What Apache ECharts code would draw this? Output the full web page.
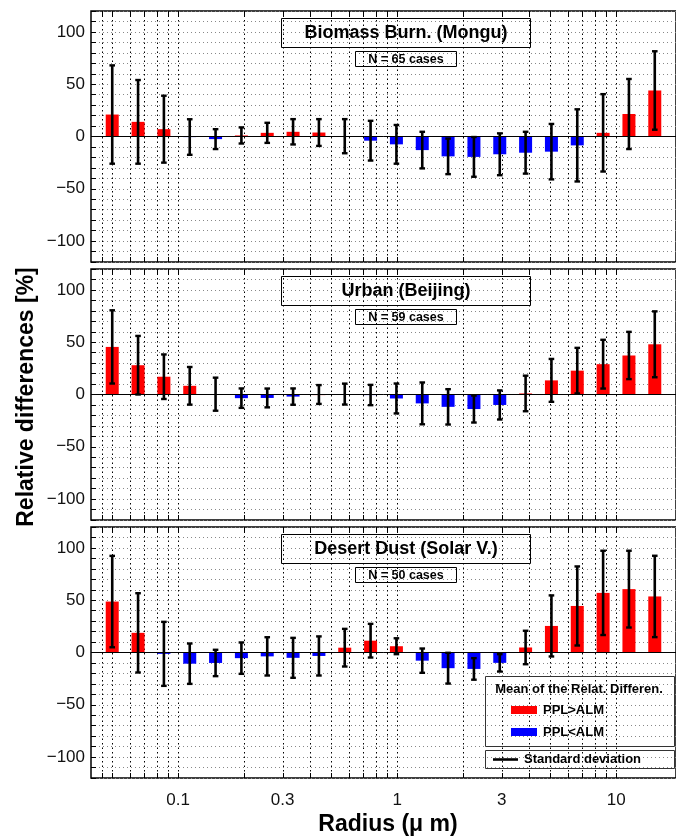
<!DOCTYPE html>
<html><head><meta charset="utf-8">
<script src="https://cdn.jsdelivr.net/npm/echarts@6/dist/echarts.min.js"></script>
<style>html,body{margin:0;padding:0;background:#fff}#c{width:676px;height:838px}</style>
</head><body><div id="c"></div>
<script>
// ---- data ----
const radii = [0.05, 0.065604, 0.086077, 0.112939, 0.148184, 0.194429, 0.255105, 0.334716, 0.439173, 0.576227, 0.756052, 0.991996, 1.301571, 1.707757, 2.240702, 2.939966, 3.857452, 5.06126, 6.640745, 8.713145, 11.432287, 15.0];

const monguMean = [21, 14, 7, -0.5, -2.5, 1, 3.5, 4.5, 3.8, 0.3, -4, -7.5, -13, -19, -19.5, -17, -15.5, -14.5, -8.5, 3.5, 21.5, 44];
const monguSd   = [47, 40, 32, 17, 9.5, 7.7, 9.6, 12.1, 12.8, 16.3, 19, 18.5, 17.5, 17, 19, 20, 20, 26.5, 34.5, 37, 33.5, 37.5];

const beijingMean = [45.5, 28, 17, 8.3, 0.3, -3.5, -3.3, -2, 0, 0.4, -0.5, -3.8, -8.5, -11.8, -13.9, -10, 1, 13.5, 22.8, 29, 37.3, 48];
const beijingSd   = [35, 28, 21.3, 18, 15.8, 9.3, 9, 7.8, 9, 10, 9.7, 14.3, 20, 16.9, 12.9, 13.9, 17, 20.5, 21.8, 23.3, 22.6, 31.5];

const solarMean = [48.7, 18.8, -1.3, -10.7, -10, -5.4, -3.7, -5.1, -3.3, 4.6, 11.3, 6, -7.8, -15, -15.7, -9.9, 4.8, 25.4, 44.5, 57, 60.6, 53.6];
const solarSd   = [43.7, 37.9, 30.6, 19.3, 12.6, 15, 18.3, 19.1, 18.7, 18, 16.1, 7.6, 11.6, 14.7, 10.3, 8.3, 16, 29.2, 37.8, 40.3, 36.7, 38.9];

const panelTitles = ['Biomass Burn. (Mongu)', 'Urban (Beijing)', 'Desert Dust (Solar V.)'];
const panelCases  = ['N = 65 cases', 'N = 59 cases', 'N = 50 cases'];
const xTickLabels = [0.1, 0.3, 1, 3, 10];
const xGridValues = [0.045, 0.05, 0.06, 0.07, 0.08, 0.09, 0.1, 0.2, 0.3, 0.4, 0.5, 0.6, 0.7, 0.8, 0.9, 1, 2, 3, 4, 5, 6, 7, 8, 9, 10];
const yLabelValues = [-100, -50, 0, 50, 100];
const legendTitle = 'Mean of the Relat. Differen.';
const legendPos = 'PPL>ALM';
const legendNeg = 'PPL<ALM';
const legendSd = 'Standard deviation';
const yTitle = 'Relative differences [%]';
const xTitle = 'Radius (\u03bc m)';

// ---- layout ----
const FONT = '"Liberation Sans", Arial, Helvetica, sans-serif';
const panelTops = [11, 269, 527];
const panelH = 251;
const gridLeft = 91;
const gridW = 586;
const RED = '#ff0000', BLUE = '#0000ff';

const means = [monguMean, beijingMean, solarMean];
const sds = [monguSd, beijingSd, solarSd];

const grids = [], xAxes = [], yAxes = [], series = [], graphics = [];

panelTops.forEach((top, p) => {
  grids.push({left: gridLeft, top: top, width: gridW, height: panelH, show: true,
    borderColor: '#000', borderWidth: 1.5, backgroundColor: 'transparent'});
  xAxes.push({type: 'log', logBase: 10, gridIndex: p, min: 0.04, max: 18.75,
    axisLine: {show: false}, axisTick: {show: false}, axisLabel: {show: false}, splitLine: {show: false}});
  yAxes.push({type: 'value', gridIndex: p, min: -120, max: 120, interval: 10,
    axisLine: {show: false},
    axisTick: {show: true, inside: true, length: 5, lineStyle: {color: '#000', width: 1}},
    axisLabel: {show: true, fontFamily: FONT, fontSize: 17, color: '#111', margin: 6,
      formatter: v => yLabelValues.indexOf(v) >= 0 ? String(v).replace('-', '\u2212') : ''},
    splitLine: {show: true, lineStyle: {color: '#888', width: 1, type: [1, 3]}}});

  // vertical dotted grid lines + top/bottom ticks
  series.push({type: 'custom', xAxisIndex: p, yAxisIndex: p, silent: true, z: 1,
    data: xGridValues.map(v => [v, 0]), encode: {x: 0, y: 1},
    renderItem: (params, api) => {
      const cs = params.coordSys;
      const x = Math.round(api.coord([api.value(0), 0])[0]) + 0.5;
      return {type: 'group', children: [
        {type: 'line', shape: {x1: x, y1: cs.y, x2: x, y2: cs.y + cs.height},
          style: {stroke: '#000', lineWidth: 1, lineDash: [1.5, 3]}},
        {type: 'line', shape: {x1: x, y1: cs.y + cs.height - 5, x2: x, y2: cs.y + cs.height},
          style: {stroke: '#000', lineWidth: 1}},
        {type: 'line', shape: {x1: x, y1: cs.y, x2: x, y2: cs.y + 5},
          style: {stroke: '#000', lineWidth: 1}}
      ]};
    }});

  // bars with error bars
  series.push({type: 'custom', xAxisIndex: p, yAxisIndex: p, z: 3,
    data: radii.map((r, i) => [r, means[p][i], sds[p][i]]), encode: {x: 0, y: 1},
    renderItem: (params, api) => {
      const r = api.value(0), m = api.value(1), s = api.value(2);
      const p0 = api.coord([r, 0]), p1 = api.coord([r, m]);
      const pt = api.coord([r, m + s]), pb = api.coord([r, m - s]);
      const hw = 6.5, cw = 2.8;
      const x = p0[0];
      return {type: 'group', children: [
        {type: 'rect', shape: {x: x - hw, y: Math.min(p0[1], p1[1]), width: 2 * hw, height: Math.max(Math.abs(p1[1] - p0[1]), 0.6)},
          style: {fill: m >= 0 ? RED : BLUE}},
        {type: 'line', shape: {x1: x, y1: pt[1], x2: x, y2: pb[1]}, style: {stroke: '#000', lineWidth: 2.6}},
        {type: 'line', shape: {x1: x - cw, y1: pt[1], x2: x + cw, y2: pt[1]}, style: {stroke: '#000', lineWidth: 2.4}},
        {type: 'line', shape: {x1: x - cw, y1: pb[1], x2: x + cw, y2: pb[1]}, style: {stroke: '#000', lineWidth: 2.4}}
      ]};
    },
    markLine: {silent: true, symbol: 'none', label: {show: false}, animation: false,
      lineStyle: {color: '#000', width: 1, type: 'solid'}, data: [{yAxis: 0}]}
  });

  // panel title boxes
  graphics.push({type: 'rect', shape: {x: 281.5, y: top + 7.5, width: 249, height: 29},
    style: {fill: 'none', stroke: '#000', lineWidth: 1}, z: 10});
  graphics.push({type: 'text', x: 406, y: top + 22, z: 11,
    style: {text: panelTitles[p], font: 'bold 18px ' + FONT, fill: '#000', textAlign: 'center', textVerticalAlign: 'middle'}});
  graphics.push({type: 'rect', shape: {x: 355.5, y: top + 40.5, width: 101, height: 15},
    style: {fill: 'none', stroke: '#000', lineWidth: 1}, z: 10});
  graphics.push({type: 'text', x: 406, y: top + 48.5, z: 11,
    style: {text: panelCases[p], font: 'bold 12.5px ' + FONT, fill: '#000', textAlign: 'center', textVerticalAlign: 'middle'}});
});

// x tick labels on the bottom panel
series.push({type: 'custom', xAxisIndex: 2, yAxisIndex: 2, silent: true, z: 5, clip: false,
  data: xTickLabels.map(v => [v, -120]), encode: {x: 0, y: 1},
  renderItem: (params, api) => {
    const pt = api.coord([api.value(0), -120]);
    return {type: 'text', x: pt[0], y: pt[1] + 22,
      style: {text: String(api.value(0)), font: '17px ' + FONT, fill: '#111', textAlign: 'center', textVerticalAlign: 'middle'}};
  }});

// legend
graphics.push({type: 'rect', shape: {x: 485.5, y: 676.5, width: 189, height: 70}, style: {fill: 'none', stroke: '#333', lineWidth: 1}, z: 10});
graphics.push({type: 'text', x: 579, y: 689, z: 11, style: {text: legendTitle, font: 'bold 13px ' + FONT, fill: '#000', textAlign: 'center', textVerticalAlign: 'middle'}});
graphics.push({type: 'rect', shape: {x: 511, y: 706, width: 26, height: 8}, style: {fill: RED}, z: 11});
graphics.push({type: 'text', x: 543, y: 710.5, z: 11, style: {text: legendPos, font: 'bold 13px ' + FONT, fill: '#000', textAlign: 'left', textVerticalAlign: 'middle'}});
graphics.push({type: 'rect', shape: {x: 511, y: 728, width: 26, height: 8}, style: {fill: BLUE}, z: 11});
graphics.push({type: 'text', x: 543, y: 732.5, z: 11, style: {text: legendNeg, font: 'bold 13px ' + FONT, fill: '#000', textAlign: 'left', textVerticalAlign: 'middle'}});
graphics.push({type: 'rect', shape: {x: 485.5, y: 750.5, width: 189, height: 18}, style: {fill: 'none', stroke: '#333', lineWidth: 1}, z: 10});
graphics.push({type: 'line', shape: {x1: 493, y1: 759.5, x2: 518, y2: 759.5}, style: {stroke: '#000', lineWidth: 2.6}, z: 11});
graphics.push({type: 'text', x: 524, y: 759.5, z: 11, style: {text: legendSd, font: 'bold 13px ' + FONT, fill: '#000', textAlign: 'left', textVerticalAlign: 'middle'}});

// axis titles
graphics.push({type: 'text', x: 27, y: 397, rotation: Math.PI / 2, z: 11,
  style: {text: yTitle, font: 'bold 23px ' + FONT, fill: '#000', textAlign: 'center', textVerticalAlign: 'middle'}});
graphics.push({type: 'text', x: 388, y: 825, z: 11,
  style: {text: xTitle, font: 'bold 23px ' + FONT, fill: '#000', textAlign: 'center', textVerticalAlign: 'middle'}});

const chart = echarts.init(document.getElementById('c'), null, {renderer: 'canvas'});
chart.setOption({
  animation: false,
  backgroundColor: '#fff',
  grid: grids, xAxis: xAxes, yAxis: yAxes, series: series,
  graphic: {elements: graphics}
});
</script></body></html>
